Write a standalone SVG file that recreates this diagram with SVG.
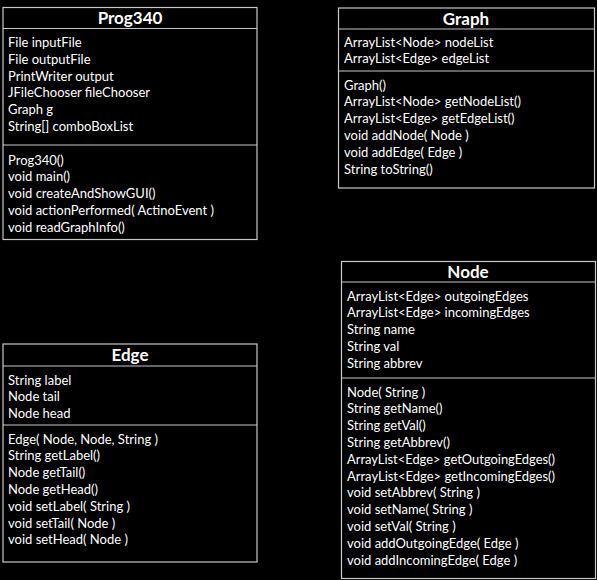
<svg xmlns="http://www.w3.org/2000/svg" width="597" height="580" viewBox="0 0 597 580">
<style>
.box{fill:#000;stroke:#c8c8c8;stroke-width:1.2}
.ln{stroke:#c8c8c8;stroke-width:1.2}
.t{fill:#fff;font-family:Lato,"Open Sans",sans-serif;font-size:13px}
.h{fill:#fff;font-family:Lato,"Open Sans",sans-serif;font-size:17px;font-weight:bold;text-anchor:middle}
</style>
<rect width="597" height="580" fill="#000"/>
<g id="Prog340">
<rect class="box" x="3" y="7.5" width="254" height="232"/>
<line class="ln" x1="3" y1="28.5" x2="257" y2="28.5"/>
<line class="ln" x1="3" y1="145" x2="257" y2="145"/>
<text class="h" x="130" y="24">Prog340</text>
<text class="t" x="8" y="47">File inputFile</text>
<text class="t" x="8" y="63.8">File outputFile</text>
<text class="t" x="8" y="80.6">PrintWriter output</text>
<text class="t" x="8" y="97.4">JFileChooser fileChooser</text>
<text class="t" x="8" y="114.2">Graph g</text>
<text class="t" x="8" y="131">String[] comboBoxList</text>
<text class="t" x="8" y="164.5">Prog340()</text>
<text class="t" x="8" y="181.3">void main()</text>
<text class="t" x="8" y="198.1">void createAndShowGUI()</text>
<text class="t" x="8" y="214.9">void actionPerformed( ActinoEvent )</text>
<text class="t" x="8" y="231.7">void readGraphInfo()</text>
</g>
<g id="Graph">
<rect class="box" x="338.5" y="8" width="256" height="180"/>
<line class="ln" x1="338.5" y1="29" x2="594.5" y2="29"/>
<line class="ln" x1="338.5" y1="71" x2="594.5" y2="71"/>
<text class="h" x="466" y="24.5">Graph</text>
<text class="t" x="344" y="46.5">ArrayList&lt;Node&gt; nodeList</text>
<text class="t" x="344" y="63.3">ArrayList&lt;Edge&gt; edgeList</text>
<text class="t" x="344" y="89.5">Graph()</text>
<text class="t" x="344" y="106.3">ArrayList&lt;Node&gt; getNodeList()</text>
<text class="t" x="344" y="123.1">ArrayList&lt;Edge&gt; getEdgeList()</text>
<text class="t" x="344" y="139.9">void addNode( Node )</text>
<text class="t" x="344" y="156.7">void addEdge( Edge )</text>
<text class="t" x="344" y="173.5">String toString()</text>
</g>
<g id="Edge">
<rect class="box" x="3" y="344" width="254" height="218"/>
<line class="ln" x1="3" y1="366" x2="257" y2="366"/>
<line class="ln" x1="3" y1="425" x2="257" y2="425"/>
<text class="h" x="130" y="361">Edge</text>
<text class="t" x="8" y="384.5">String label</text>
<text class="t" x="8" y="401.3">Node tail</text>
<text class="t" x="8" y="418.1">Node head</text>
<text class="t" x="8" y="443.5">Edge( Node, Node, String )</text>
<text class="t" x="8" y="460.3">String getLabel()</text>
<text class="t" x="8" y="477.1">Node getTail()</text>
<text class="t" x="8" y="493.9">Node getHead()</text>
<text class="t" x="8" y="510.7">void setLabel( String )</text>
<text class="t" x="8" y="527.5">void setTail( Node )</text>
<text class="t" x="8" y="544.3">void setHead( Node )</text>
</g>
<g id="Node">
<rect class="box" x="341.5" y="261.5" width="254" height="317"/>
<line class="ln" x1="341.5" y1="282" x2="595.5" y2="282"/>
<line class="ln" x1="341.5" y1="378" x2="595.5" y2="378"/>
<text class="h" x="468" y="278">Node</text>
<text class="t" x="347" y="300.5">ArrayList&lt;Edge&gt; outgoingEdges</text>
<text class="t" x="347" y="317.3">ArrayList&lt;Edge&gt; incomingEdges</text>
<text class="t" x="347" y="334.1">String name</text>
<text class="t" x="347" y="350.9">String val</text>
<text class="t" x="347" y="367.7">String abbrev</text>
<text class="t" x="347" y="396.5">Node( String )</text>
<text class="t" x="347" y="413.3">String getName()</text>
<text class="t" x="347" y="430.1">String getVal()</text>
<text class="t" x="347" y="446.9">String getAbbrev()</text>
<text class="t" x="347" y="463.7" textLength="208" lengthAdjust="spacingAndGlyphs">ArrayList&lt;Edge&gt; getOutgoingEdges()</text>
<text class="t" x="347" y="480.5" textLength="208" lengthAdjust="spacingAndGlyphs">ArrayList&lt;Edge&gt; getIncomingEdges()</text>
<text class="t" x="347" y="497.3">void setAbbrev( String )</text>
<text class="t" x="347" y="514.1">void setName( String )</text>
<text class="t" x="347" y="530.9">void setVal( String )</text>
<text class="t" x="347" y="547.7">void addOutgoingEdge( Edge )</text>
<text class="t" x="347" y="564.5">void addIncomingEdge( Edge )</text>
</g>
<g id="connectors"></g>
</svg>
